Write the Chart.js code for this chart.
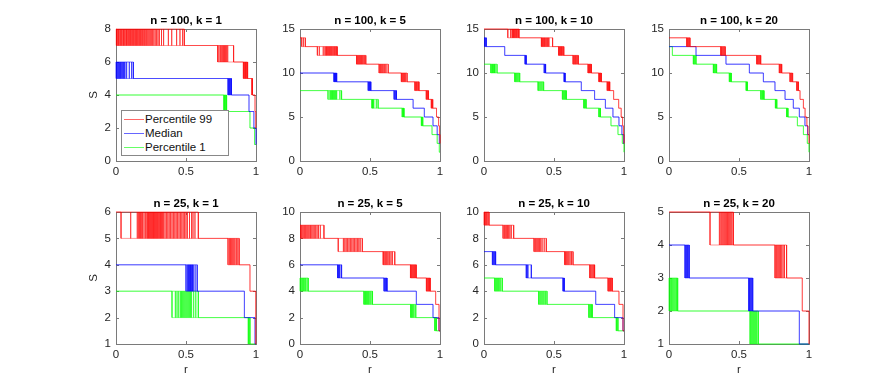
<!DOCTYPE html>
<html>
<head>
<meta charset="utf-8">
<script src="https://cdn.jsdelivr.net/npm/chart.js@4"></script>
<style>
  body { margin: 0; background: #fff; }
  #wrap { position: relative; width: 894px; height: 387px; overflow: hidden; }
  #wrap canvas { position: absolute; }
  #legend {
    position: absolute; left: 121px; top: 110px; width: 104px;
    border: 1px solid #888; background: #fff; padding: 1px 0 1px 2px;
    font: 11.5px "Liberation Sans", Arial, sans-serif; color: #111;
  }
  #legend .row { display: flex; align-items: center; height: 14px; }
  #legend .sw { width: 20px; height: 0; border-top: 1px solid; margin-right: 1px; }
</style>
</head>
<body>
<div id="wrap"></div>
<script>
// series and labels
const seriesNames = ['Percentile 99', 'Median', 'Percentile 1'];
const seriesRgb = ['255,0,0', '0,0,255', '0,255,0'];
const xTicks = [0, 0.5, 1];

const panelTitles = [
  'n = 100, k = 1', 'n = 100, k = 5', 'n = 100, k = 10', 'n = 100, k = 20',
  'n = 25, k = 1', 'n = 25, k = 5', 'n = 25, k = 10', 'n = 25, k = 20'
];
const panelYMin = [0, 0, 0, 0, 1, 0, 0, 1];
const panelYMax = [8, 15, 15, 15, 6, 10, 10, 5];
const panelYTicks = [
  [0, 2, 4, 6, 8], [0, 5, 10, 15], [0, 5, 10, 15], [0, 5, 10, 15],
  [1, 2, 3, 4, 5, 6], [0, 2, 4, 6, 8, 10], [0, 2, 4, 6, 8, 10], [1, 2, 3, 4, 5]
];

// each step: [S before, S after, r positions where the runs drop]
const n100k1_p99 = [
  [8, 7, [0.003, 0.01, 0.017, 0.022, 0.03, 0.036, 0.042, 0.05, 0.055, 0.062, 0.07, 0.075, 0.083, 0.09,
          0.097, 0.104, 0.11, 0.118, 0.125, 0.133, 0.14, 0.146, 0.153, 0.16, 0.168, 0.175, 0.183, 0.19,
          0.198, 0.205, 0.213, 0.22, 0.228, 0.236, 0.244, 0.252, 0.26, 0.27, 0.28, 0.29, 0.3, 0.31,
          0.325, 0.34, 0.374, 0.398, 0.433, 0.457, 0.476, 0.488]],
  [7, 6, [0.726, 0.735, 0.745, 0.752, 0.76, 0.768, 0.775, 0.782, 0.79, 0.798, 0.84]],
  [6, 5, [0.91, 0.915, 0.92, 0.925, 0.93, 0.935, 0.94]],
  [5, 4, [0.97, 0.975]],
  [4, 3, [0.993]],
  [3, 2, [0.998]]
];
const n100k1_med = [
  [6, 5, [0.002, 0.008, 0.014, 0.02, 0.026, 0.032, 0.038, 0.045, 0.052, 0.058, 0.064, 0.076, 0.095, 0.112, 0.124]],
  [5, 4, [0.8, 0.805, 0.81, 0.815, 0.82, 0.825]],
  [4, 3, [0.95]],
  [3, 2, [0.985]],
  [2, 1, [1.0]]
];
const n100k1_p1 = [
  [4, 3, [0.77, 0.775, 0.78, 0.785, 0.79]],
  [3, 2, [0.957]],
  [2, 1, [0.99]]
];

const n100k5_p99 = [
  [14, 13, [0.012, 0.024, 0.038]],
  [13, 12, [0.124, 0.138, 0.166, 0.178, 0.185, 0.19, 0.197, 0.203, 0.21, 0.216, 0.222, 0.228, 0.235, 0.242, 0.248, 0.255, 0.262, 0.266]],
  [12, 11, [0.404, 0.41, 0.416, 0.422, 0.428, 0.434, 0.44, 0.447, 0.455, 0.462, 0.47]],
  [11, 10, [0.565, 0.572, 0.578, 0.585, 0.592, 0.6, 0.607, 0.615, 0.63]],
  [10, 9, [0.724, 0.73, 0.736, 0.742, 0.748, 0.755, 0.765]],
  [9, 8, [0.82, 0.826, 0.832, 0.838, 0.845, 0.85]],
  [8, 7, [0.902, 0.907, 0.912, 0.918]],
  [7, 6, [0.938, 0.943, 0.948]],
  [6, 5, [0.975]],
  [5, 4, [0.99]],
  [4, 3, [0.996]],
  [3, 2, [1.0]]
];
const n100k5_med = [
  [10, 9, [0.242, 0.246, 0.25, 0.254, 0.258, 0.262]],
  [9, 8, [0.487, 0.492, 0.497, 0.502, 0.506]],
  [8, 7, [0.672, 0.678, 0.684, 0.689]],
  [7, 6, [0.808]],
  [6, 5, [0.888]],
  [5, 4, [0.95]],
  [4, 3, [0.98]],
  [3, 2, [0.995]]
];
const n100k5_p1 = [
  [8, 7, [0.2, 0.214, 0.22, 0.226, 0.232, 0.238, 0.244, 0.25, 0.256, 0.262, 0.285, 0.297]],
  [7, 6, [0.513, 0.518, 0.522, 0.527, 0.545, 0.558]],
  [6, 5, [0.73, 0.735, 0.74, 0.743]],
  [5, 4, [0.867, 0.872, 0.877]],
  [4, 3, [0.943]],
  [3, 2, [0.98]],
  [2, 1, [0.995]]
];

const n100k10_p99 = [
  [15, 14, [0.17, 0.19, 0.2, 0.205, 0.21, 0.215, 0.22, 0.226, 0.232, 0.238, 0.245, 0.25]],
  [14, 13, [0.41, 0.415, 0.42, 0.426, 0.432, 0.438, 0.445, 0.452, 0.458, 0.464, 0.49]],
  [13, 12, [0.533, 0.538, 0.543, 0.548, 0.553, 0.558, 0.564, 0.57]],
  [12, 11, [0.636, 0.642, 0.648, 0.654, 0.66, 0.667, 0.674]],
  [11, 10, [0.743, 0.748, 0.753, 0.758, 0.763, 0.767]],
  [10, 9, [0.82, 0.825, 0.83, 0.835, 0.838]],
  [9, 8, [0.88, 0.885, 0.89, 0.895, 0.898]],
  [8, 7, [0.926]],
  [7, 6, [0.962]],
  [6, 5, [0.98]],
  [5, 4, [0.99]],
  [4, 3, [0.996]],
  [3, 2, [1.0]]
];
const n100k10_med = [
  [14, 13, [0.005, 0.01, 0.017]],
  [13, 12, [0.148]],
  [12, 11, [0.293, 0.298, 0.302]],
  [11, 10, [0.43, 0.436, 0.44]],
  [10, 9, [0.572, 0.576, 0.58]],
  [9, 8, [0.695]],
  [8, 7, [0.79]],
  [7, 6, [0.867]],
  [6, 5, [0.921]],
  [5, 4, [0.964]],
  [4, 3, [0.985]],
  [3, 2, [0.997]]
];
const n100k10_p1 = [
  [11, 10, [0.048, 0.055, 0.06, 0.065, 0.07, 0.075, 0.08, 0.093]],
  [10, 9, [0.219, 0.225, 0.232, 0.24, 0.248, 0.255]],
  [9, 8, [0.386, 0.392, 0.4, 0.408, 0.416, 0.426]],
  [8, 7, [0.56, 0.566, 0.572, 0.578, 0.584, 0.588]],
  [7, 6, [0.712, 0.718, 0.724, 0.73]],
  [6, 5, [0.82, 0.826, 0.832]],
  [5, 4, [0.907]],
  [4, 3, [0.957]],
  [3, 2, [0.988]],
  [2, 1, [1.0]]
];

const n100k20_p99 = [
  [14, 13, [0.126, 0.132, 0.138, 0.144, 0.15]],
  [13, 12, [0.369, 0.375, 0.381, 0.388, 0.395, 0.402]],
  [12, 11, [0.626, 0.632, 0.638, 0.644, 0.65, 0.655]],
  [11, 10, [0.788, 0.794, 0.8, 0.805]],
  [10, 9, [0.864, 0.87, 0.876, 0.883]],
  [9, 8, [0.912, 0.918, 0.925]],
  [8, 7, [0.936]],
  [7, 6, [0.96]],
  [6, 5, [0.972]],
  [5, 4, [0.985]],
  [4, 3, [0.993]],
  [3, 2, [1.0]]
];
const n100k20_med = [
  [13, 12, [0.193]],
  [12, 11, [0.407]],
  [11, 10, [0.574]],
  [10, 9, [0.674]],
  [9, 8, [0.757]],
  [8, 7, [0.829]],
  [7, 6, [0.888]],
  [6, 5, [0.931]],
  [5, 4, [0.971]],
  [4, 3, [0.99]]
];
const n100k20_p1 = [
  [13, 12, [0.024]],
  [12, 11, [0.174, 0.18, 0.186, 0.193]],
  [11, 10, [0.317, 0.322, 0.328, 0.334, 0.34]],
  [10, 9, [0.431, 0.436, 0.441, 0.445]],
  [9, 8, [0.551, 0.555, 0.56]],
  [8, 7, [0.655, 0.662, 0.668, 0.674, 0.679]],
  [7, 6, [0.76, 0.765, 0.77]],
  [6, 5, [0.84, 0.845, 0.85]],
  [5, 4, [0.917]],
  [4, 3, [0.96]],
  [3, 2, [0.988]],
  [2, 1, [1.0]]
];

const n25k1_p99 = [
  [6, 5, [0.036, 0.105, 0.152, 0.16, 0.168, 0.175, 0.183, 0.19, 0.2, 0.21, 0.22, 0.226, 0.232, 0.238,
          0.244, 0.25, 0.256, 0.262, 0.268, 0.274, 0.28, 0.286, 0.292, 0.298, 0.305, 0.312, 0.318, 0.325,
          0.332, 0.34, 0.35, 0.36, 0.37, 0.38, 0.39, 0.4, 0.41, 0.42, 0.43, 0.44, 0.45, 0.46, 0.47, 0.48,
          0.49, 0.5, 0.51, 0.525, 0.54, 0.55, 0.564, 0.588]],
  [5, 4, [0.8, 0.81, 0.818, 0.826, 0.834, 0.842, 0.85, 0.86, 0.87, 0.88]],
  [4, 3, [0.957]],
  [3, 1, [0.998]]
];
const n25k1_med = [
  [4, 3, [0.5, 0.51, 0.517, 0.522, 0.527, 0.532, 0.537, 0.542, 0.547, 0.552, 0.565, 0.58]],
  [3, 2, [0.917]],
  [2, 1, [0.993]]
];
const n25k1_p1 = [
  [3, 2, [0.4, 0.424, 0.436, 0.448, 0.46, 0.468, 0.476, 0.484, 0.492, 0.5, 0.508, 0.516, 0.524, 0.532,
          0.54, 0.555, 0.57, 0.588]],
  [2, 1, [0.945, 0.95, 0.957]]
];

const n25k5_p99 = [
  [9, 8, [0.005, 0.012, 0.02, 0.028, 0.035, 0.042, 0.05, 0.058, 0.066, 0.075, 0.084, 0.093, 0.102, 0.112, 0.122, 0.132, 0.145, 0.171]],
  [8, 7, [0.273, 0.31, 0.32, 0.33, 0.34, 0.35, 0.36, 0.37, 0.38, 0.39, 0.4, 0.41, 0.42, 0.43, 0.445]],
  [7, 6, [0.594, 0.6, 0.608, 0.615, 0.622, 0.63, 0.64, 0.65, 0.66, 0.677]],
  [6, 5, [0.789, 0.795, 0.8, 0.806, 0.812, 0.818, 0.825, 0.831]],
  [5, 4, [0.903, 0.909, 0.915, 0.92, 0.925, 0.931]],
  [4, 3, [0.969]],
  [3, 1, [0.993]]
];
const n25k5_med = [
  [6, 5, [0.268, 0.275, 0.28, 0.285, 0.297]],
  [5, 4, [0.6, 0.606, 0.612, 0.617, 0.622]],
  [4, 3, [0.831]],
  [3, 2, [0.95]],
  [2, 1, [0.993]]
];
const n25k5_p1 = [
  [5, 4, [0.002, 0.01, 0.018, 0.025, 0.033, 0.04, 0.05, 0.059]],
  [4, 3, [0.456, 0.462, 0.468, 0.474, 0.48, 0.486, 0.492, 0.5, 0.508, 0.518]],
  [3, 2, [0.79, 0.796, 0.802, 0.808, 0.815, 0.827]],
  [2, 1, [0.962, 0.968, 0.975]]
];

const n25k10_p99 = [
  [10, 9, [0.002, 0.008, 0.014, 0.02, 0.028, 0.036]],
  [9, 8, [0.136, 0.145, 0.152, 0.16, 0.168, 0.176, 0.185, 0.195, 0.212]],
  [8, 7, [0.357, 0.365, 0.372, 0.38, 0.388, 0.396, 0.405, 0.415, 0.43, 0.445]],
  [7, 6, [0.576, 0.582, 0.59, 0.598, 0.606, 0.615, 0.625, 0.636]],
  [6, 5, [0.755, 0.762, 0.77, 0.778, 0.785, 0.79]],
  [5, 4, [0.886, 0.892, 0.898, 0.904, 0.91, 0.917]],
  [4, 3, [0.964]],
  [3, 1, [0.993]]
];
const n25k10_med = [
  [7, 6, [0.06, 0.066, 0.072, 0.078, 0.083]],
  [6, 5, [0.302, 0.308, 0.314, 0.338]],
  [5, 4, [0.564, 0.569, 0.574]],
  [4, 3, [0.798]],
  [3, 2, [0.933]],
  [2, 1, [0.993]]
];
const n25k10_p1 = [
  [5, 4, [0.076, 0.083, 0.09, 0.097, 0.104, 0.112, 0.12, 0.131]],
  [4, 3, [0.39, 0.398, 0.406, 0.414, 0.422, 0.43, 0.44, 0.45]],
  [3, 2, [0.748, 0.755, 0.762, 0.768, 0.774]],
  [2, 1, [0.945, 0.95, 0.957]]
];

const n25k20_p99 = [
  [5, 4, [0.293, 0.36, 0.37, 0.378, 0.386, 0.394, 0.402, 0.41, 0.418, 0.426, 0.434, 0.442, 0.45, 0.46]],
  [4, 3, [0.757, 0.765, 0.772, 0.78, 0.788, 0.796, 0.805, 0.815, 0.825, 0.84]],
  [3, 2, [0.952]],
  [2, 1, [1.0]]
];
const n25k20_med = [
  [4, 3, [0.114, 0.12, 0.126, 0.132, 0.138, 0.145]],
  [3, 2, [0.569, 0.575, 0.58, 0.586, 0.592, 0.598]],
  [2, 1, [0.931]]
];
const n25k20_p1 = [
  [3, 2, [0.002, 0.01, 0.018, 0.026, 0.034, 0.042, 0.05, 0.056, 0.062]],
  [2, 1, [0.579, 0.586, 0.593, 0.6, 0.607, 0.614, 0.621, 0.628, 0.638]]
];

const panelSeries = [
  [n100k1_p99, n100k1_med, n100k1_p1],
  [n100k5_p99, n100k5_med, n100k5_p1],
  [n100k10_p99, n100k10_med, n100k10_p1],
  [n100k20_p99, n100k20_med, n100k20_p1],
  [n25k1_p99, n25k1_med, n25k1_p1],
  [n25k5_p99, n25k5_med, n25k5_p1],
  [n25k10_p99, n25k10_med, n25k10_p1],
  [n25k20_p99, n25k20_med, n25k20_p1]
];

// layout (px)
const COL_LEFT = [116, 300, 484, 669];
const ROW_TOP = [29, 212];
const PLOT_W = 140, PLOT_H = 132;
const PAD_L = 45, PAD_T = 20, PAD_R = 10, PAD_B = 35;
const AXIS_COLOR = '#7a7a7a';
const FONT = '"Liberation Sans", Arial, sans-serif';

Chart.defaults.font.family = FONT;
Chart.defaults.color = '#262626';

// step curve where every run has dropped (pick = max) or the first one (pick = min)
function envelope(steps, pick) {
  const pts = [{ x: 0, y: steps[0][0] }];
  steps.forEach(([hi, lo, xs]) => pts.push({ x: pick(...xs), y: lo }));
  pts.push({ x: 1, y: steps[steps.length - 1][1] });
  return pts;
}

// one vertical segment per run at each spread-out drop
function spread(steps) {
  const pts = [];
  steps.forEach(([hi, lo, xs]) => {
    if (xs.length < 2) return;
    xs.forEach(x => pts.push({ x, y: hi }, { x, y: lo }, { x, y: null }));
  });
  return pts;
}

const framePlugin = {
  id: 'frame',
  beforeDatasetsDraw(chart) {
    const { ctx, chartArea: a, scales } = chart;
    ctx.save();
    ctx.strokeStyle = AXIS_COLOR;
    ctx.lineWidth = 1;
    ctx.strokeRect(a.left + 0.5, a.top + 0.5, a.width, a.height);
    ctx.beginPath();
    scales.x.ticks.forEach(t => {
      const px = Math.round(scales.x.getPixelForValue(t.value)) + 0.5;
      ctx.moveTo(px, a.bottom); ctx.lineTo(px, a.bottom - 3);
      ctx.moveTo(px, a.top); ctx.lineTo(px, a.top + 3);
    });
    scales.y.ticks.forEach(t => {
      const py = Math.round(scales.y.getPixelForValue(t.value)) + 0.5;
      ctx.moveTo(a.left, py); ctx.lineTo(a.left + 3, py);
      ctx.moveTo(a.right, py); ctx.lineTo(a.right - 3, py);
    });
    ctx.stroke();
    ctx.restore();
  }
};

const wrap = document.getElementById('wrap');

panelTitles.forEach((title, i) => {
  const row = Math.floor(i / 4), col = i % 4;
  const canvas = document.createElement('canvas');
  canvas.width = PAD_L + PLOT_W + PAD_R;
  canvas.height = PAD_T + PLOT_H + PAD_B;
  canvas.style.left = (COL_LEFT[col] - PAD_L) + 'px';
  canvas.style.top = (ROW_TOP[row] - PAD_T) + 'px';
  wrap.appendChild(canvas);

  const datasets = [];
  panelSeries[i].forEach((steps, s) => {
    const rgb = seriesRgb[s];
    const base = { borderWidth: 1, pointRadius: 0, fill: false, clip: 2 };
    datasets.push({ ...base, label: seriesNames[s], data: envelope(steps, Math.max),
      stepped: true, borderColor: `rgba(${rgb},0.5)` });
    datasets.push({ ...base, label: seriesNames[s] + ' first', data: envelope(steps, Math.min),
      stepped: true, borderColor: `rgba(${rgb},0.4)` });
    datasets.push({ ...base, label: seriesNames[s] + ' runs', data: spread(steps),
      spanGaps: false, borderColor: `rgba(${rgb},0.42)` });
  });

  const yTicks = panelYTicks[i];
  new Chart(canvas, {
    type: 'line',
    data: { datasets },
    options: {
      responsive: false,
      animation: false,
      events: [],
      layout: { padding: { left: 0, top: 0, right: PAD_R, bottom: 0 } },
      plugins: {
        legend: { display: false },
        tooltip: { enabled: false },
        title: {
          display: true,
          fullSize: false, // centre over the plot box, not the whole canvas
          text: title,
          color: '#000',
          font: { size: 11.5, weight: 'bold', lineHeight: '14px' },
          padding: { top: 5, bottom: 1 }
        }
      },
      scales: {
        x: {
          type: 'linear',
          min: 0, max: 1,
          grid: { display: false, drawTicks: false },
          border: { display: false },
          afterBuildTicks: axis => { axis.ticks = xTicks.map(v => ({ value: v })); },
          afterFit: axis => { axis.height = PAD_B; },
          ticks: { padding: 4, maxRotation: 0, autoSkip: false, font: { size: 11.5 },
            callback: v => String(v) },
          title: { display: row === 1, text: 'r', font: { size: 11.5, lineHeight: '14px' },
            padding: { top: 0, bottom: 2 } }
        },
        y: {
          type: 'linear',
          min: panelYMin[i], max: panelYMax[i],
          grid: { display: false, drawTicks: false },
          border: { display: false },
          afterBuildTicks: axis => { axis.ticks = yTicks.map(v => ({ value: v })); },
          afterFit: axis => { axis.width = PAD_L; },
          ticks: { padding: 5, autoSkip: false, font: { size: 11.5 }, callback: v => String(v) },
          title: { display: col === 0, text: 'S', font: { size: 11.5, lineHeight: '14px' },
            padding: { top: 16, bottom: 0 } }
        }
      }
    },
    plugins: [framePlugin]
  });
});

// legend box inside the first panel
const legend = document.createElement('div');
legend.id = 'legend';
seriesNames.forEach((name, s) => {
  const row = document.createElement('div');
  row.className = 'row';
  const sw = document.createElement('span');
  sw.className = 'sw';
  sw.style.borderTopColor = `rgba(${seriesRgb[s]},0.6)`;
  const txt = document.createElement('span');
  txt.textContent = name;
  row.appendChild(sw);
  row.appendChild(txt);
  legend.appendChild(row);
});
wrap.appendChild(legend);
</script>
</body>
</html>
